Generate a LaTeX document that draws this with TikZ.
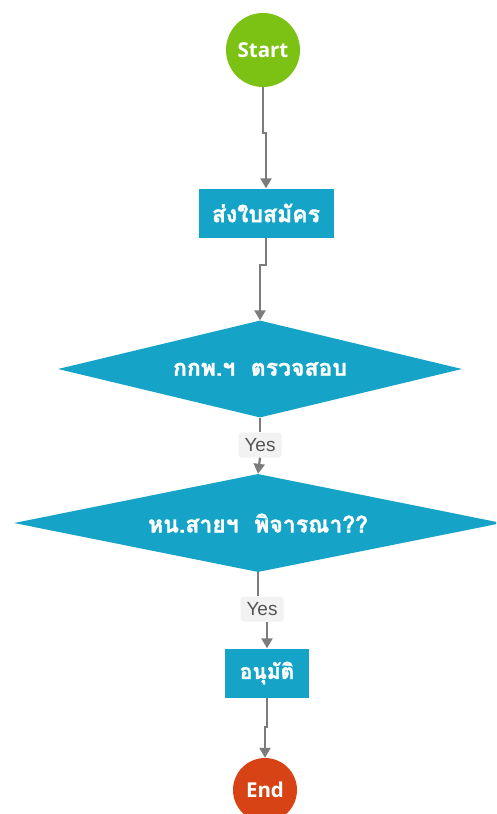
\documentclass[tikz,border=0pt]{standalone}
\usepackage{fontspec}
\setmainfont{Open Sans}
\newfontfamily\thaifont[Script=Thai,BoldFont={Loma Bold},BoldFeatures={FakeBold=1.2}]{Loma}
\newfontfamily\yesfont{Liberation Sans}
\usetikzlibrary{shapes.geometric,arrows.meta,calc}
\definecolor{startgreen}{HTML}{7CC214}
\definecolor{endred}{HTML}{D84315}
\definecolor{teal}{HTML}{15A4C8}
\definecolor{linegray}{HTML}{7C7C7C}
\definecolor{lblbg}{HTML}{F2F2F2}
\definecolor{lbltext}{HTML}{555555}
\tikzset{
  terminal/.style={circle,draw=none,inner sep=0pt,text=white,font=\bfseries\fontsize{20.5}{21}\selectfont},
  procbox/.style={rectangle,fill=teal,draw=none,inner sep=0pt,text=white,font=\thaifont\bfseries\fontsize{23}{23}\selectfont},
  decision/.style={diamond,fill=teal,draw=none,inner sep=0pt,text=white,font=\thaifont\bfseries\fontsize{23}{23}\selectfont},
  lbl/.style={rectangle,rounded corners=3pt,fill=lblbg,text=lbltext,inner sep=0pt,minimum width=43pt,minimum height=25pt,font=\yesfont\fontsize{19}{19}\selectfont},
  conn/.style={draw=linegray,line width=2.2pt},
  arr/.style={conn,-{Triangle[width=11pt,length=10pt]}}
}
\begin{document}
\begin{tikzpicture}[x=1pt,y=-1pt]
\path[use as bounding box,clip] (0,0) rectangle (496,814);
\fill[white] (0,0) rectangle (496,814);
\node[terminal,fill=startgreen,minimum size=74pt] (start) at (263,50) {Start};
\node[procbox,minimum width=135pt,minimum height=49pt] (box1) at (266,213) {ส่งใบสมัคร};
\node[decision,shape aspect=4.165,minimum width=404pt,minimum height=97pt] (d1) at (260,369) {กกพ.ฯ\ \ ตรวจสอบ};
\node[decision,shape aspect=4.98,minimum width=488pt,minimum height=98pt] (d2) at (258,523) {หน.สายฯ\ \ พิจารณา??};
\node[procbox,minimum width=84pt,minimum height=49pt,font=\thaifont\bfseries\fontsize{21}{21}\selectfont] (box2) at (267,673) {อนุมัติ};
\node[terminal,fill=endred,minimum size=64pt] (end) at (265,790) {End};
\node[lbl] (yes1) at (260,445) {Yes};
\node[lbl] (yes2) at (262,609) {Yes};
\draw[arr] (start.south) -- ++(0,46) -| (box1.north);
\draw[arr] (box1.south) -- ++(0,27) -| (d1.north);
\draw[conn] (d1.south) -- (yes1.north);
\draw[arr] (yes1.south) -- (d2.north);
\draw[conn] (d2.south) -- (d2.south |- yes2.north);
\draw[arr] (box2.north |- yes2.south) -- (box2.north);
\draw[arr] (box2.south) -- ++(0,29) -| (end.north);
\end{tikzpicture}
\end{document}
